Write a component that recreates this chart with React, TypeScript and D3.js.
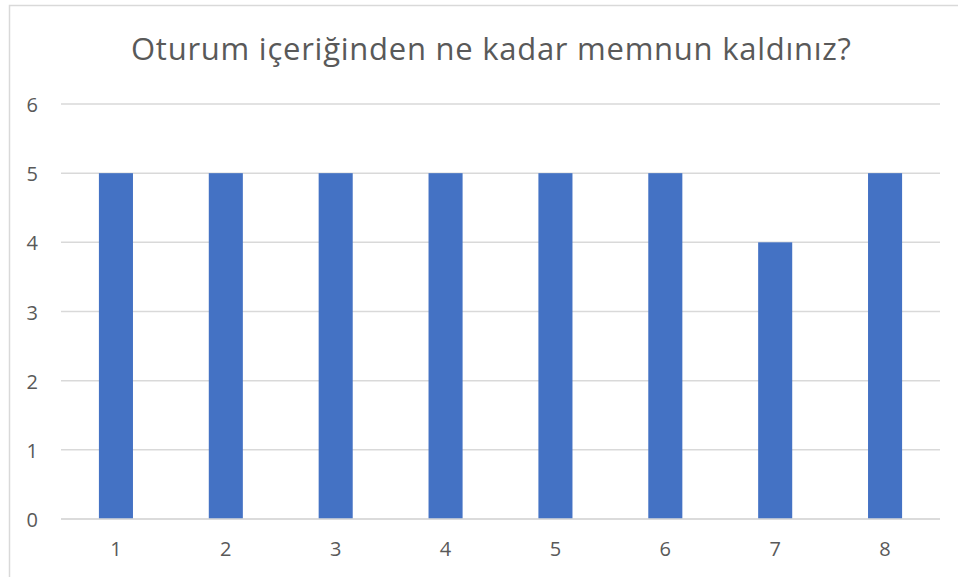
import React, { useEffect, useRef } from 'react'
import * as d3 from 'd3'

const title = 'Oturum içeriğinden ne kadar memnun kaldınız?'
const categories = ['1', '2', '3', '4', '5', '6', '7', '8']
const values = [5, 5, 5, 5, 5, 5, 4, 5]
const yTicks = [0, 1, 2, 3, 4, 5, 6]

const W = 958
const H = 577
const plot = { left: 61, right: 940, top: 104, bottom: 519 }

export default function App() {
  const svgRef = useRef<SVGSVGElement>(null)

  useEffect(() => {
    if (!svgRef.current) return
    const svg = d3.select(svgRef.current)
    svg.selectAll('*').remove() // Clear previous renders

    const font = "'Open Sans', sans-serif"
    const textColor = '#595959'

    // chart area border (runs off the right/bottom edge)
    svg
      .append('rect')
      .attr('x', 9.5)
      .attr('y', 5.5)
      .attr('width', 1100)
      .attr('height', 1100)
      .attr('fill', '#fff')
      .attr('stroke', '#d9d9d9')
      .attr('stroke-width', 1.5)

    const x = d3.scaleBand().domain(categories).range([plot.left, plot.right]).paddingInner(0.69).paddingOuter(0.345)
    const y = d3.scaleLinear().domain([0, 6]).range([plot.bottom, plot.top])

    // gridlines
    svg
      .append('g')
      .selectAll('line')
      .data(yTicks)
      .join('line')
      .attr('x1', plot.left)
      .attr('x2', plot.right)
      .attr('y1', (d) => y(d))
      .attr('y2', (d) => y(d))
      .attr('stroke', '#d9d9d9')
      .attr('stroke-width', 1.5)

    // bars
    svg
      .append('g')
      .selectAll('rect')
      .data(values)
      .join('rect')
      .attr('x', (d, i) => x(categories[i]) as number)
      .attr('y', (d) => y(d))
      .attr('width', x.bandwidth())
      .attr('height', (d) => y(0) - y(d))
      .attr('fill', '#4472c4')

    // baseline redrawn over bars
    svg
      .append('line')
      .attr('x1', plot.left)
      .attr('x2', plot.right)
      .attr('y1', y(0))
      .attr('y2', y(0))
      .attr('stroke', '#d9d9d9')
      .attr('stroke-width', 1.5)

    // y tick labels
    svg
      .append('g')
      .selectAll('text')
      .data(yTicks)
      .join('text')
      .attr('x', 38)
      .attr('y', (d) => y(d) + 8)
      .attr('text-anchor', 'end')
      .attr('font-family', font)
      .attr('font-size', 20)
      .attr('fill', textColor)
      .text((d) => d)

    // x tick labels
    svg
      .append('g')
      .selectAll('text')
      .data(categories)
      .join('text')
      .attr('x', (d) => (x(d) as number) + x.bandwidth() / 2)
      .attr('y', 556)
      .attr('text-anchor', 'middle')
      .attr('font-family', font)
      .attr('font-size', 20)
      .attr('fill', textColor)
      .text((d) => d)

    // title
    svg
      .append('text')
      .attr('x', 491)
      .attr('y', 60)
      .attr('text-anchor', 'middle')
      .attr('font-family', font)
      .attr('font-size', 31)
      .attr('fill', textColor)
      .attr('textLength', 720)
      .attr('lengthAdjust', 'spacing')
      .text(title)
  }, [])

  return (
    <svg
      ref={svgRef}
      width={W}
      height={H}
      style={{ position: 'absolute', left: 0, top: 0, background: '#fff' }}
    />
  )
}
